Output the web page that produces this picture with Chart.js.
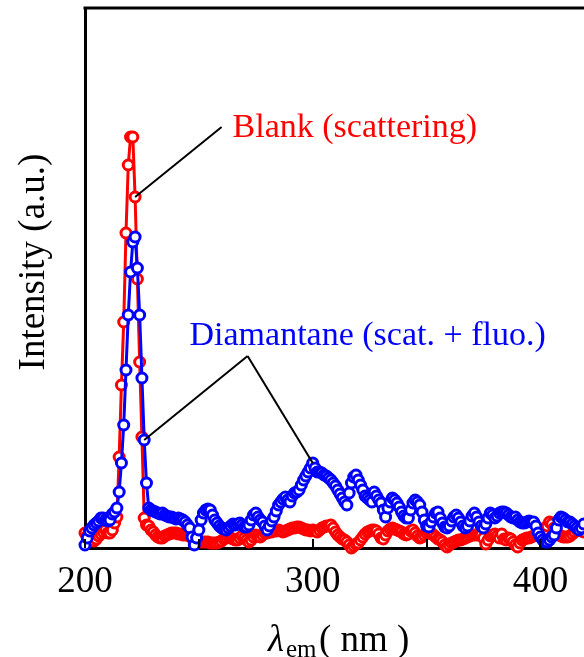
<!DOCTYPE html>
<html>
<head>
<meta charset="utf-8">
<script src="https://cdn.jsdelivr.net/npm/chart.js@4.4.1/dist/chart.umd.min.js"></script>
<style>
  html, body { margin: 0; padding: 0; background: #fff; overflow: hidden; }
  #wrap { width: 584px; height: 657px; overflow: hidden; }
</style>
</head>
<body>
<div id="wrap"><canvas id="chart" width="594" height="657"></canvas></div>
<script>
// emission wavelength grid, 1 nm step
const wavelengths = Array.from({ length: 220 }, (_, i) => 200 + i);

// Blank (scattering)
const blankValues = [
  15, 12, 10, 8, 7, 9, 12, 14, 16, 18,
  15, 15, 18, 25, 31, 91, 163, 226, 315, 383,
  411, 411, 351, 269, 186, 111, 30, 23, 22, 18,
  16, 13, 11, 10, 10, 12, 13, 14, 15, 15,
  15, 14, 14, 13, 13, 13, 12, 10, 9, 8,
  7, 6, 6, 6, 6, 5, 5, 5, 5, 6,
  7, 9, 10, 11, 10, 9, 8, 8, 10, 12,
  10, 8, 6, 8, 11, 13, 12, 11, 13, 15,
  15, 16, 16, 18, 17, 18, 17, 16, 17, 18,
  19, 20, 20, 21, 21, 20, 19, 18, 18, 17,
  18, 17, 16, 18, 20, 21, 22, 22, 23, 20,
  16, 13, 11, 9, 8, 6, 3, 0, 2, 4,
  5, 8, 11, 14, 16, 17, 18, 18, 17, 14,
  10, 9, 13, 17, 19, 20, 19, 18, 17, 16,
  14, 13, 14, 17, 18, 15, 12, 10, 11, 13,
  15, 16, 15, 13, 11, 9, 8, 6, 3, 1,
  3, 5, 6, 7, 8, 8, 9, 10, 11, 12,
  13, 13, 13, 13, 13, 10, 4, 8, 12, 13,
  14, 12, 10, 14, 9, 8, 10, 9, 6, 3,
  1, 5, 8, 9, 10, 10, 11, 12, 13, 13,
  13, 15, 18, 22, 26, 24, 20, 16, 13, 12,
  11, 11, 11, 12, 14, 16, 18, 18, 17, 16
];

// Diamantane (scat. + fluo.)
const diamantaneValues = [
  3, 10, 17, 20, 23, 25, 27, 30, 30, 28,
  27, 28, 34, 36, 40, 56, 85, 123, 178, 233,
  276, 306, 311, 280, 233, 170, 108, 65, 40, 38,
  37, 36, 35, 34, 35, 33, 32, 31, 31, 30,
  29, 30, 29, 28, 26, 23, 20, 11, 3, 10,
  18, 28, 35, 38, 39, 38, 33, 28, 25, 22,
  20, 19, 18, 20, 22, 24, 23, 24, 25, 23,
  21, 21, 23, 28, 33, 35, 31, 28, 26, 22,
  18, 22, 27, 31, 37, 43, 46, 49, 51, 48,
  46, 52, 55, 56, 58, 63, 68, 72, 76, 80,
  85, 80, 76, 76, 75, 73, 72, 70, 68, 65,
  62, 58, 54, 50, 46, 43, 55, 65, 71, 73,
  68, 63, 58, 52, 50, 48, 46, 56, 52, 48,
  45, 38, 31, 40, 46, 50, 48, 45, 41, 36,
  32, 30, 30, 38, 45, 48, 46, 43, 36, 28,
  22, 21, 26, 31, 35, 36, 30, 25, 21, 20,
  22, 27, 31, 33, 30, 26, 22, 20, 22, 27,
  32, 35, 31, 26, 22, 20, 24, 30, 35, 33,
  30, 32, 35, 36, 36, 35, 33, 31, 30, 31,
  28, 26, 25, 25, 26, 27, 26, 26, 22, 15,
  11, 8, 6, 6, 8, 11, 13, 20, 28, 31,
  30, 28, 26, 26, 24, 22, 20, 18, 20, 24
];

const xTicks = [200, 250, 300, 350, 400];
const xTickLabels = ['200', '', '300', '', '400'];

// label text, anchor [nm, intensity], leader line targets
const labels = [
  { text: 'Blank (scattering)', color: '#ff0000', at: [264.8, 411],
    from: [260, 421], to: [[222, 351]] },
  { text: 'Diamantane (scat. + fluo.)', color: '#0000ff', at: [245.9, 203],
    from: [271.4, 192], to: [[226, 108], [300, 85]] }
];

const serif = '"Liberation Serif", "Times New Roman", serif';

const decorPlugin = {
  id: 'decor',
  afterDraw(chart) {
    const ctx = chart.ctx;
    const xs = chart.scales.x, ys = chart.scales.y;
    const area = chart.chartArea;
    ctx.save();
    ctx.strokeStyle = '#000';

    // top frame line
    ctx.lineWidth = 3;
    ctx.beginPath();
    ctx.moveTo(area.left - 1.5, area.top);
    ctx.lineTo(chart.width, area.top);
    ctx.stroke();

    // inward ticks
    ctx.lineWidth = 2;
    xTicks.forEach(v => {
      const px = Math.round(xs.getPixelForValue(v));
      ctx.beginPath();
      ctx.moveTo(px, area.bottom);
      ctx.lineTo(px, area.bottom - 9);
      ctx.stroke();
    });

    // leader lines + labels
    ctx.lineWidth = 2;
    labels.forEach(l => {
      const fx = xs.getPixelForValue(l.from[0]), fy = ys.getPixelForValue(l.from[1]);
      l.to.forEach(t => {
        ctx.beginPath();
        ctx.moveTo(fx, fy);
        ctx.lineTo(xs.getPixelForValue(t[0]), ys.getPixelForValue(t[1]));
        ctx.stroke();
      });
      ctx.fillStyle = l.color;
      ctx.font = '34px ' + serif;
      ctx.textAlign = 'left';
      ctx.textBaseline = 'alphabetic';
      ctx.fillText(l.text, xs.getPixelForValue(l.at[0]), ys.getPixelForValue(l.at[1]));
    });

    // y axis title
    ctx.fillStyle = '#000';
    ctx.save();
    ctx.translate(44, 262);
    ctx.rotate(-Math.PI / 2);
    ctx.font = '37px ' + serif;
    ctx.textAlign = 'center';
    ctx.fillText('Intensity (a.u.)', 0, 0);
    ctx.restore();

    // x axis title with subscript
    ctx.textAlign = 'left';
    ctx.font = 'italic 37px ' + serif;
    ctx.fillText('\u03BB', 268, 651);
    ctx.font = '25px ' + serif;
    ctx.fillText('em', 286, 657);
    ctx.font = '37px ' + serif;
    ctx.fillText('( nm )', 319, 651);
    ctx.restore();
  }
};

function seriesStyle(color) {
  return {
    borderColor: color,
    backgroundColor: '#ffffff',
    borderWidth: 3,
    pointRadius: 5,
    pointBorderWidth: 3,
    pointBackgroundColor: '#ffffff',
    pointBorderColor: color,
    tension: 0,
    clip: false
  };
}

new Chart(document.getElementById('chart'), {
  type: 'line',
  data: {
    datasets: [
      Object.assign({
        label: 'Diamantane (scat. + fluo.)',
        data: wavelengths.map((w, i) => ({ x: w, y: diamantaneValues[i] }))
      }, seriesStyle('#0000ff')),
      Object.assign({
        label: 'Blank (scattering)',
        data: wavelengths.map((w, i) => ({ x: w, y: blankValues[i] }))
      }, seriesStyle('#ff0000'))
    ]
  },
  options: {
    responsive: false,
    animation: false,
    layout: { padding: { top: 8, right: 0, left: 0, bottom: 0 } },
    plugins: { legend: { display: false }, tooltip: { enabled: false } },
    scales: {
      x: {
        type: 'linear',
        min: 200,
        max: 420,
        afterBuildTicks: s => { s.ticks = xTicks.map(v => ({ value: v })); },
        afterFit: s => { s.height = 109; },
        ticks: {
          color: '#000',
          padding: 4,
          maxRotation: 0,
          font: { family: serif, size: 37 },
          callback: v => xTickLabels[xTicks.indexOf(v)]
        },
        grid: { display: false },
        border: { display: true, color: '#000', width: 3 }
      },
      y: {
        min: 0,
        max: 540,
        afterFit: s => { s.width = 85; },
        ticks: { display: false },
        grid: { display: false },
        border: { display: true, color: '#000', width: 3 }
      }
    }
  },
  plugins: [decorPlugin]
});
</script>
</body>
</html>
